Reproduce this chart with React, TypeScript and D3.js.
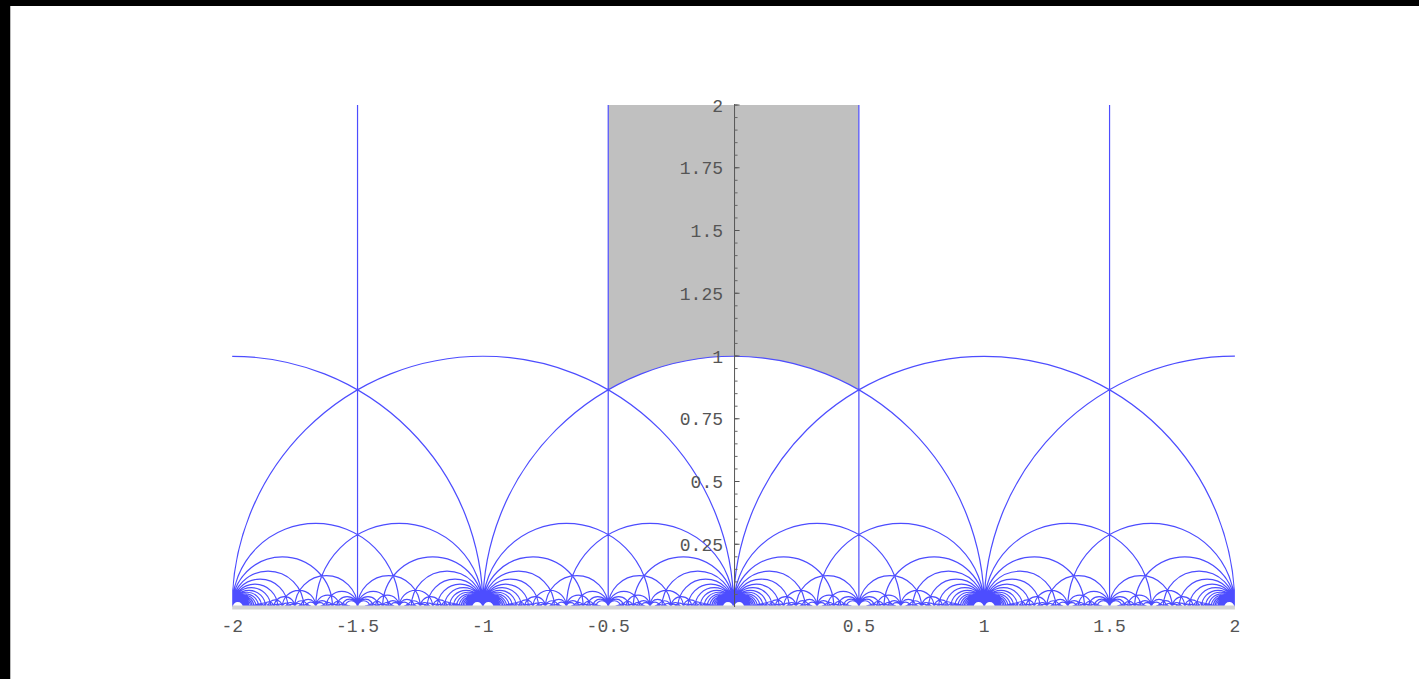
import React from 'react';
import * as d3 from 'd3';

// ---- chart data ----
const X_DOMAIN = [-2, 2];
const Y_DOMAIN = [0, 2];
const X_TICKS = [-2, -1.5, -1, -0.5, 0.5, 1, 1.5, 2];
const X_TICK_LABELS = ['-2', '-1.5', '-1', '-0.5', '0.5', '1', '1.5', '2'];
const Y_TICKS = [0.25, 0.5, 0.75, 1, 1.25, 1.5, 1.75, 2];
const Y_TICK_LABELS = ['0.25', '0.5', '0.75', '1', '1.25', '1.5', '1.75', '2'];
const Y_MINOR_TICKS = d3.range(0.05, 2.0001, 0.05);
// fundamental domain of the modular group: |Re z| <= 1/2, |z| >= 1 (shown up to Im z = 2)
const FUND_X = [-0.5, 0.5];
const FUND_TOP = 2;
const FUND_RADIUS = 1;
// tessellation: SL(2,Z)-orbit of the edge geodesic with endpoints 1/2 and infinity;
// geodesics whose endpoint denominators are at most MAX_DENOM,
// the fans at the integer cusps are followed further (CUSP_DENOM)
const MAX_DENOM = 22;
const CUSP_DENOM = 45;
const MIN_RADIUS = 0.004;

function gcd(a: number, b: number) {
  a = Math.abs(a); b = Math.abs(b);
  while (b) { const t = a % b; a = b; b = t; }
  return a;
}
function modInv(a: number, c: number) {
  if (c === 1) return 0;
  const am = ((a % c) + c) % c;
  for (let d = 1; d < c; d++) if ((am * d) % c === 1) return d;
  return 0;
}

type Geo = { p: number; q: number };
function buildGeodesics(): Geo[] {
  const out: Geo[] = [];
  const seen = new Set<string>();
  for (let c = 1; c <= CUSP_DENOM; c++) {
    const aMin = Math.floor((X_DOMAIN[0] - 2 / c) * c) - 1;
    const aMax = Math.ceil((X_DOMAIN[1] + 2 / c) * c) + 1;
    const Emax = c === 1 ? CUSP_DENOM : c <= MAX_DENOM ? MAX_DENOM : 1;
    const E = Math.min(Emax, Math.floor(1 / (c * MIN_RADIUS)));
    for (let a = aMin; a <= aMax; a++) {
      if (gcd(a, c) !== 1) continue;
      const d0 = modInv(a, c);
      const dmin = (-E - c) / 2, dmax = (E - c) / 2;
      const kmin = Math.ceil((dmin - d0) / c), kmax = Math.floor((dmax - d0) / c);
      for (let k = kmin; k <= kmax; k++) {
        const d = d0 + k * c;
        const b = (a * d - 1) / c;
        const e = c + 2 * d;
        const p = a / c;
        const q = e === 0 ? Infinity : (a + 2 * b) / e;
        const lo = Math.min(p, q), hi = Math.max(p, q);
        if (hi < X_DOMAIN[0] || lo > X_DOMAIN[1]) continue;
        const key = lo.toFixed(9) + '_' + (isFinite(hi) ? hi.toFixed(9) : 'inf');
        if (seen.has(key)) continue;
        seen.add(key);
        out.push({ p: lo, q: hi });
      }
    }
  }
  return out;
}
const GEODESICS = buildGeodesics();

const W = 1419, H = 679;

export default function App() {
  const x = d3.scaleLinear().domain(X_DOMAIN).range([232.2, 1234.9]);
  const y = d3.scaleLinear().domain(Y_DOMAIN).range([607, 105]);
  const k = x(1) - x(0);
  const y0 = y(0);

  const arcs = d3.path();
  for (const g of GEODESICS) {
    if (!isFinite(g.q)) {
      arcs.moveTo(x(g.p), y(0));
      arcs.lineTo(x(g.p), y(Y_DOMAIN[1]));
    } else {
      const cx = x((g.p + g.q) / 2);
      const R = ((g.q - g.p) / 2) * k;
      arcs.moveTo(cx - R, y0);
      arcs.arc(cx, y0, R, Math.PI, 2 * Math.PI, false);
    }
  }

  const fy = Math.sqrt(FUND_RADIUS * FUND_RADIUS - FUND_X[0] * FUND_X[0]);
  const fund = d3.path();
  fund.moveTo(x(FUND_X[0]), y(FUND_TOP));
  fund.lineTo(x(FUND_X[0]), y(fy));
  const sa0 = Math.atan2(y(fy) - y0, x(FUND_X[0]) - x(0));
  const sa1 = Math.atan2(y(fy) - y0, x(FUND_X[1]) - x(0));
  fund.arc(x(0), y0, FUND_RADIUS * k, sa0, sa1, false);
  fund.lineTo(x(FUND_X[1]), y(FUND_TOP));
  fund.closePath();

  const font = "'Liberation Mono', 'DejaVu Sans Mono', monospace";

  return (
    <svg width={W} height={H} style={{ position: 'fixed', left: 0, top: 0, background: '#fff' }}>
      <rect x={0} y={0} width={W} height={H} fill="#fff" />
      <rect x={0} y={0} width={W} height={6} fill="#000" />
      <rect x={0} y={0} width={10} height={H} fill="#000" />
      <rect x={10} y={6} width={1} height={H} fill="#bbb" />
      <defs>
        <clipPath id="plotclip">
          <rect x={x(X_DOMAIN[0])} y={y(Y_DOMAIN[1])} width={x(X_DOMAIN[1]) - x(X_DOMAIN[0])} height={y(0) - y(Y_DOMAIN[1])} />
        </clipPath>
      </defs>
      <path d={fund.toString()} fill="#c0c0c0" stroke="none" />
      <g clipPath="url(#plotclip)">
        <path d={arcs.toString()} fill="none" stroke="#4d4dff" strokeWidth={1.2} />
      </g>
      <line x1={x(X_DOMAIN[0])} x2={x(X_DOMAIN[1])} y1={y0 + 0.5} y2={y0 + 0.5} stroke="#d4d4d4" strokeWidth={4} />
      <line x1={x(0) + 1} x2={x(0) + 1} y1={y0} y2={y(Y_DOMAIN[1]) - 1} stroke="#555" strokeWidth={1} />
      {Y_MINOR_TICKS.map((t, i) => (
        <line key={'m' + i} x1={x(0) + 1} x2={x(0) + 4} y1={y(t)} y2={y(t)} stroke="#666" strokeWidth={1} />
      ))}
      {Y_TICKS.map((t, i) => (
        <line key={'M' + i} x1={x(0) + 1} x2={x(0) + 6} y1={y(t)} y2={y(t)} stroke="#555" strokeWidth={1} />
      ))}
      {Y_TICKS.map((t, i) => (
        <text key={'yl' + i} x={723} y={y(t) + 6.5} textAnchor="end" fontFamily={font} fontSize={18} fill="#555">
          {Y_TICK_LABELS[i]}
        </text>
      ))}
      {X_TICKS.map((t, i) => (
        <text key={'xl' + i} x={x(t)} y={632} textAnchor="middle" fontFamily={font} fontSize={18} fill="#555">
          {X_TICK_LABELS[i]}
        </text>
      ))}
    </svg>
  );
}
